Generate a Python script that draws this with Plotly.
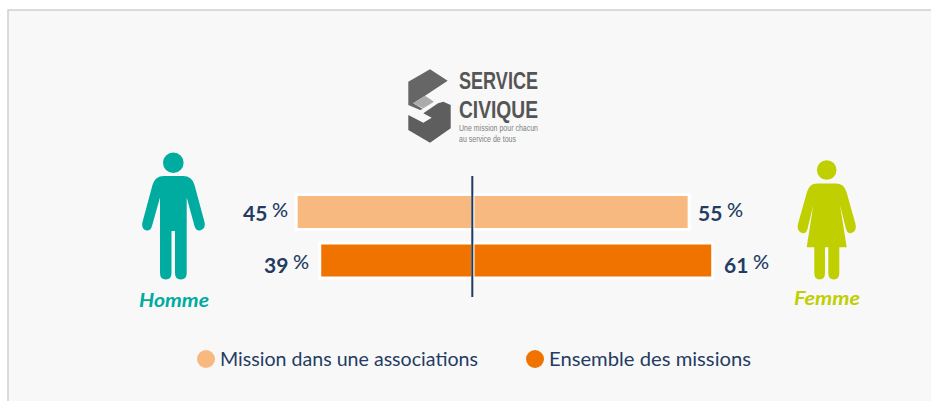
import re
import json
import plotly.graph_objects as go

W, H = 931, 401
CATEGORIES = ["Mission dans une associations", "Ensemble des missions"]
HOMME = [45, 39]
FEMME = [55, 61]
COLORS = ["#F8B981", "#F07300"]
NAVY = "#243C63"
TEAL = "#00AB9F"
LIME = "#BFCF00"
FONT = "Lato"

SCALE = 3.93
CX = 473
PY0, PSTEP = 212, 48.5


def px(s):
    """Translate an SVG path written in page pixels into paper coordinates."""
    idx = 0

    def rep(m):
        nonlocal idx
        v = float(m.group(0))
        r = v / W if idx % 2 == 0 else 1 - v / H
        idx += 1
        return f"{r:.5f}"

    return re.sub(r"-?\d+\.?\d*", rep, s)


def path(s, color):
    return dict(type="path", xref="paper", yref="paper", path=px(s),
                fillcolor=color, line=dict(width=0), layer="below")


def circle(cx, cy, r, color):
    return dict(type="circle", xref="paper", yref="paper",
                x0=(cx - r) / W, x1=(cx + r) / W,
                y0=1 - (cy + r) / H, y1=1 - (cy - r) / H,
                fillcolor=color, line=dict(width=0), layer="below")


def text(x, y, t, size, color, anchor="center", weight=400, style="normal", family=FONT):
    return dict(xref="paper", yref="paper", x=x / W, y=1 - y / H, text=t, showarrow=False,
                xanchor=anchor, yanchor="middle",
                font=dict(family=family, size=size, color=color, weight=weight, style=style))


fig = go.Figure()
for vals in ([-v for v in HOMME], FEMME):
    fig.add_bar(y=CATEGORIES, x=vals, orientation="h", width=0.72,
                marker=dict(color=COLORS, line=dict(color="white", width=3)),
                hoverinfo="skip", showlegend=False)

MAN = ("M164 176 L183 176 Q192 176 194.5 185 L204.5 222 Q206 229 200 230.5 Q196 231 194.5 226 "
       "L186.7 197.5 L186.7 273 Q186.7 279.5 180.8 279.5 Q175 279.5 175 273 L175 231 L171.5 231 "
       "L171.5 273 Q171.5 279.5 165.8 279.5 Q160 279.5 160 273 L160 197.5 L152 226 "
       "Q150.5 231 146.5 230.5 Q141 229 142.5 222 L152.5 185 Q155 176 164 176 Z")
WOMAN = ("M817 183.5 L836 183.5 Q844 183.5 846.5 192 L855.5 224 Q857 231 851.5 233 Q847.5 234 846 229 "
         "L840 205 L846.7 247.3 L839.3 247.3 L839.3 273 Q839.3 279.5 833.8 279.5 Q828.3 279.5 828.3 273 "
         "L828.3 247.3 L825 247.3 L825 273 Q825 279.5 819.6 279.5 Q814.3 279.5 814.3 273 L814.3 247.3 "
         "L806.7 247.3 L813.3 205 L807.5 229 Q806 234 802 233 Q796.5 231 798 224 L807 192 "
         "Q809.5 183.5 817 183.5 Z")
LOGO_TOP = "M408.3 81.7 L430 69.3 L447.7 80.7 L425 95.7 L413.3 103.3 L423 109 L420 110 L408.3 105 Z"
LOGO_MID = "M413.3 103.3 L425 95.7 L434 101.7 L423.3 108.3 Z"
LOGO_BOT = ("M450.7 105 L450.7 128.3 L430 142.7 L408.3 130 L408.3 115 L423.3 122.7 L431.7 117.7 "
            "L423.3 113.3 L438 103.3 L443.3 101.7 Z")

shapes = [
    dict(type="rect", xref="paper", yref="paper", x0=8 / W, x1=1.02, y0=-0.03, y1=1 - 10 / H,
         fillcolor="#F8F8F8", line=dict(color="#CFCFCF", width=1.5), layer="below"),
    path(LOGO_TOP, "#666666"), path(LOGO_MID, "#ABABAB"), path(LOGO_BOT, "#5E5E5E"),
    circle(173.3, 162.7, 10.3, TEAL), path(MAN, TEAL),
    circle(826.7, 170, 9.8, LIME), path(WOMAN, LIME),
    circle(206, 359, 9, COLORS[0]), circle(535, 359, 9, COLORS[1]),
    dict(type="line", xref="paper", yref="paper", x0=472.3 / W, x1=472.3 / W,
         y0=1 - 297 / H, y1=1 - 176 / H, line=dict(color="#1F3A5F", width=2), layer="above"),
]

NARROW = "Liberation Sans"
ann = [
    text(459, 81, "SERVICE", 24, "#555555", "left", 700, family=NARROW),
    text(459, 109, "CIVIQUE", 24, "#555555", "left", 700, family=NARROW),
    text(459, 128, "Une mission pour chacun", 9, "#808080", "left", family=NARROW),
    text(459, 138.5, "au service de tous", 9, "#808080", "left", family=NARROW),
    text(174, 300, "Homme", 18.5, TEAL, weight=700, style="italic"),
    text(827, 298, "Femme", 18.5, LIME, weight=700, style="italic"),
    text(220, 358.5, CATEGORIES[0], 19, NAVY, "left"),
    text(549, 358.5, CATEGORIES[1], 19, NAVY, "left"),
]
# Left edge and width on the page, in px: the original face (Raleway) is not installed.
FITTED = {"SERVICE": [459, 79], "CIVIQUE": [459, 79], "Une mission pour chacun": [459, 79],
          "au service de tous": [459, 57], "Homme": [139, 70], "Femme": [794, 66],
          CATEGORIES[0]: [220, 258], CATEGORIES[1]: [549, 202]}

GAP_L = [6, 8.5]
GAP_R = [7, 9.5]
NUM_Y = [0, -3.5]
PCT_Y = [3, 0]
for i in range(2):
    y = CATEGORIES[i]
    ann += [
        dict(x=-HOMME[i], y=y, xshift=-GAP_L[i] - 21, yshift=NUM_Y[i], text=f"{HOMME[i]}", showarrow=False,
             xanchor="right", font=dict(family=FONT, size=21, color=NAVY, weight=700)),
        dict(x=-HOMME[i], y=y, xshift=-GAP_L[i], yshift=PCT_Y[i], text="%", showarrow=False,
             xanchor="right", font=dict(family=FONT, size=20, color=NAVY, weight=500)),
        dict(x=FEMME[i], y=y, xshift=GAP_R[i], yshift=NUM_Y[i], text=f"{FEMME[i]}", showarrow=False,
             xanchor="left", font=dict(family=FONT, size=21, color=NAVY, weight=700)),
        dict(x=FEMME[i], y=y, xshift=GAP_R[i] + 29, yshift=PCT_Y[i], text="%", showarrow=False,
             xanchor="left", font=dict(family=FONT, size=20, color=NAVY, weight=500)),
    ]

fig.update_layout(
    width=W, height=H, margin=dict(l=0, r=0, t=0, b=0),
    barmode="relative", paper_bgcolor="white", plot_bgcolor="rgba(0,0,0,0)",
    xaxis=dict(range=[-CX / SCALE, (W - CX) / SCALE], visible=False, fixedrange=True),
    yaxis=dict(type="category", categoryorder="array", categoryarray=CATEGORIES,
               range=[(H - PY0) / PSTEP, -PY0 / PSTEP], visible=False, fixedrange=True),
    shapes=shapes, annotations=ann,
)
post = ("document.body.style.margin='0';document.body.style.overflow='hidden';"
        "var fit=" + json.dumps(FITTED) + ";"
        "document.querySelectorAll('.annotation-text').forEach(function(t){"
        "var f=fit[t.textContent];if(!f)return;"
        "t.setAttribute('textLength',f[1]);t.setAttribute('lengthAdjust','spacingAndGlyphs');"
        "var l=t.getBoundingClientRect().left;"
        "t.setAttribute('x',parseFloat(t.getAttribute('x')||0)+f[0]-l);});")
fig.write_html("out.html", config={"displayModeBar": False}, post_script=post)
